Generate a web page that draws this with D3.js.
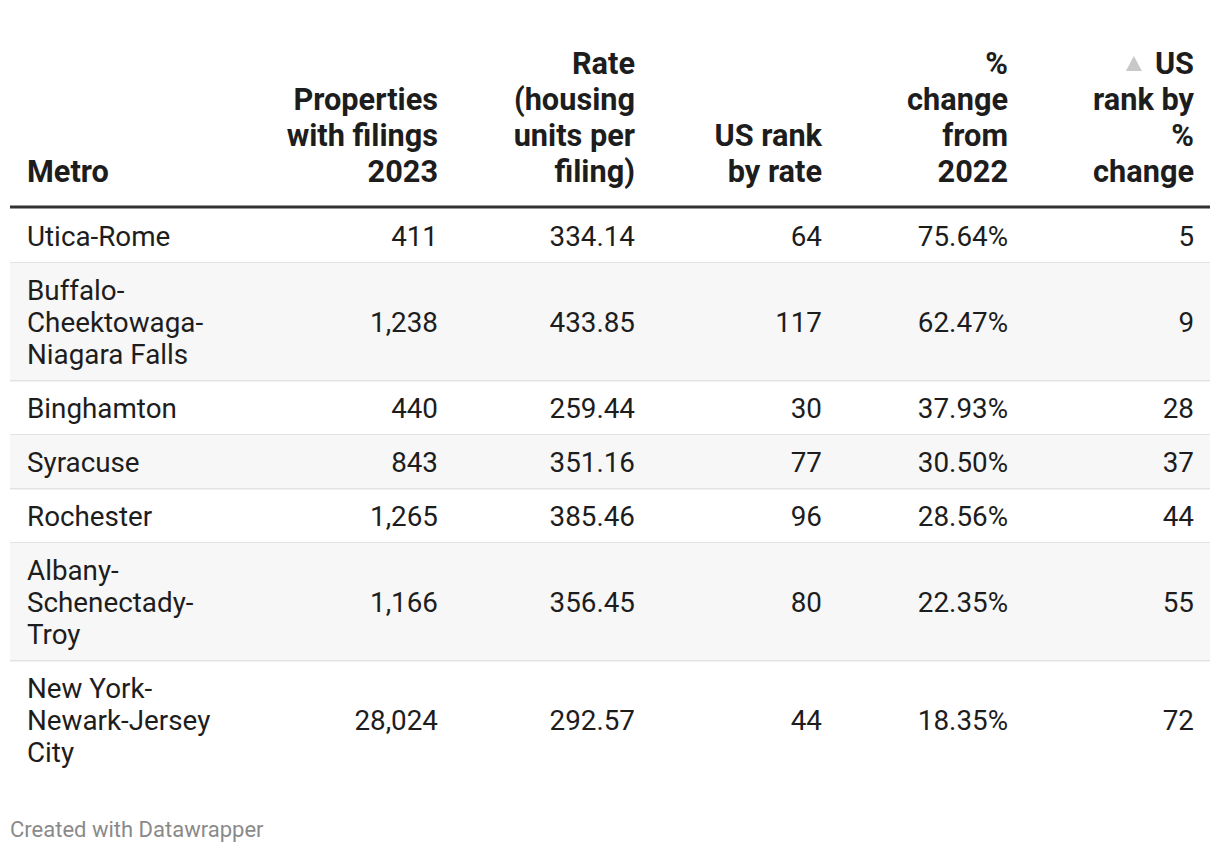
<!DOCTYPE html>
<html><head><meta charset="utf-8">
<script src="https://cdn.jsdelivr.net/npm/d3@7"></script>
<style>
html,body{margin:0;padding:0;background:#fff;}
svg text{font-family:Roboto,"Noto Sans",sans-serif;}
</style></head>
<body>
<svg id="chart" width="1220" height="854"></svg>
<script>
// ---- data ----
const metros = ["Utica-Rome","Buffalo-Cheektowaga-Niagara Falls","Binghamton","Syracuse","Rochester","Albany-Schenectady-Troy","New York-Newark-Jersey City"];
const properties = [411,1238,440,843,1265,1166,28024];
const rates = [334.14,433.85,259.44,351.16,385.46,356.45,292.57];
const rankByRate = [64,117,30,77,96,80,44];
const pctChange = [75.64,62.47,37.93,30.50,28.56,22.35,18.35];
const rankByPct = [5,9,28,37,44,55,72];
const headers = [
  ["Metro"],
  ["Properties","with filings","2023"],
  ["Rate","(housing","units per","filing)"],
  ["US rank","by rate"],
  ["%","change","from","2022"],
  ["US","rank by","%","change"]
];
const footer = "Created with Datawrapper";

// ---- layout ----
const svg = d3.select("#chart");
const left = 10, right = 1210;
const colX = [27, 438, 635, 822, 1008, 1194];
const headBaseline = 182, headLH = 36, headSize = 30.7;
const bodySize = 27.8, bodyLH = 32, rowPad = 11;
const ruleY = 207;
const fmtInt = d3.format(",");
const fmt2 = d3.format(".2f");

// header
headers.forEach((lines, i) => {
  const n = lines.length;
  const t = svg.append("text")
    .attr("x", colX[i])
    .attr("text-anchor", i === 0 ? "start" : "end")
    .attr("font-weight", 700)
    .attr("font-size", headSize)
    .attr("fill", "#1d1d1d");
  lines.forEach((ln, j) => {
    t.append("tspan").attr("x", colX[i])
      .attr("y", headBaseline - (n - 1 - j) * headLH)
      .text(ln);
  });
  if (i === 5) {
    const first = t.select("tspan").node();
    const w = first.getComputedTextLength();
    const x1 = colX[i] - w - 13;
    const yb = headBaseline - (n - 1) * headLH;
    svg.append("path")
      .attr("d", `M${x1-16},${yb-3} L${x1},${yb-3} L${x1-8},${yb-18} Z`)
      .attr("fill", "#c8c8c8");
  }
});

svg.append("rect").attr("x", left).attr("y", ruleY - 1.5).attr("width", right - left).attr("height", 3).attr("fill", "#333");

// wrap helper
const measurer = svg.append("text").attr("font-size", bodySize).attr("visibility", "hidden");
function textW(s) { measurer.text(s); return measurer.node().getComputedTextLength(); }
function wrap(s, maxW) {
  const parts = s.match(/[^\s-]+-?\s?|\s/g);
  const lines = []; let cur = "";
  parts.forEach(p => {
    const trial = cur + p;
    if (cur && textW(trial.trim()) > maxW) { lines.push(cur.trim()); cur = p; }
    else cur = trial;
  });
  if (cur.trim()) lines.push(cur.trim());
  return lines;
}

const rows = metros.map((m, i) => ({
  lines: wrap(m, 205),
  vals: [fmtInt(properties[i]), fmt2(rates[i]), String(rankByRate[i]), fmt2(pctChange[i]) + "%", String(rankByPct[i])]
}));

let y = ruleY + 2;
rows.forEach((r, i) => {
  const h = 2 * rowPad + bodyLH * r.lines.length;
  if (i % 2 === 1) svg.append("rect").attr("x", left).attr("y", y).attr("width", right - left).attr("height", h).attr("fill", "#f7f7f7");
  if (i < rows.length - 1) svg.append("rect").attr("x", left).attr("y", y + h - 1).attr("width", right - left).attr("height", 1.5).attr("fill", "#e3e3e3");
  const cy = y + h / 2;
  const capHalf = 19 / 2;
  const t = svg.append("text").attr("font-size", bodySize).attr("fill", "#1d1d1d").attr("x", colX[0]);
  r.lines.forEach((ln, j) => {
    t.append("tspan").attr("x", colX[0])
      .attr("y", cy + capHalf + (j - (r.lines.length - 1) / 2) * bodyLH).text(ln);
  });
  r.vals.forEach((v, k) => {
    svg.append("text").attr("font-size", bodySize).attr("fill", "#1d1d1d")
      .attr("x", colX[k + 1]).attr("y", cy + capHalf).attr("text-anchor", "end").text(v);
  });
  y += h;
});

svg.append("text").attr("x", 10).attr("y", 837).attr("font-size", 22).attr("fill", "#8a8a8a").text(footer);
</script>
</body></html>
